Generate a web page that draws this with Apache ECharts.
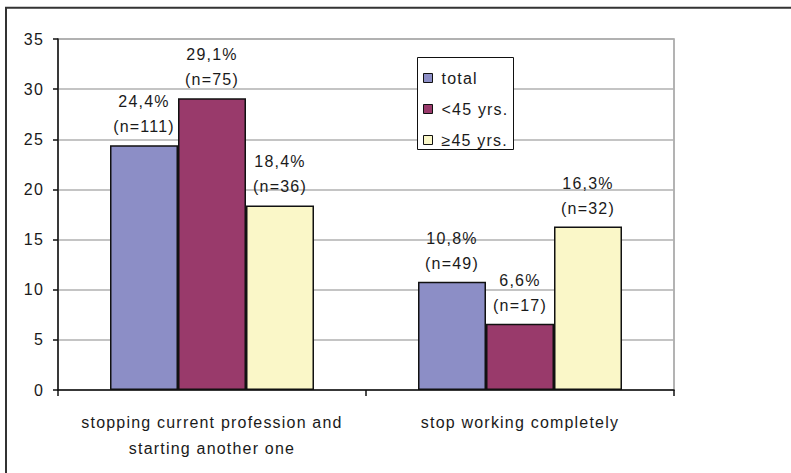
<!DOCTYPE html>
<html>
<head>
<meta charset="utf-8">
<script src="https://cdn.jsdelivr.net/npm/echarts@6/dist/echarts.min.js"></script>
<style>
  html, body { margin: 0; padding: 0; background: #fff; }
  #chart { width: 791px; height: 473px; }
  #chart text { letter-spacing: 1.2px; }
</style>
</head>
<body>
<div id="chart"></div>
<script>
// Categories on the x axis
const categories = [
  'stopping current profession and\nstarting another one',
  'stop working completely'
];
// Share of respondents (%) per age group
const seriesNames = ['total', '<45 yrs.', '\u226545 yrs.'];
const totalPct = [24.4, 10.8];
const youngPct = [29.1, 6.6];
const olderPct = [18.4, 16.3];
// Number of respondents behind each percentage
const totalN = [111, 49];
const youngN = [75, 17];
const olderN = [36, 32];
// Y axis ticks
const yMin = 0, yMax = 35, yStep = 5;

const FONT = '"Liberation Sans", Arial, sans-serif';
const colors = ['#8c8ec6', '#993a6b', '#faf7c8'];

function makeSeries(name, values, counts, color) {
  return {
    name: name,
    type: 'bar',
    data: values,
    barWidth: 68,
    barGap: 0,
    itemStyle: { color: color, borderColor: '#111', borderWidth: 1.5 },
    label: {
      show: true,
      position: 'top',
      distance: 6,
      color: '#1a1a1a',
      fontFamily: FONT,
      fontSize: 16,
      lineHeight: 25,
      formatter: p => p.value.toFixed(1).replace('.', ',') + '%\n(n=' + counts[p.dataIndex] + ')'
    }
  };
}

const chart = echarts.init(document.getElementById('chart'), null, { renderer: 'svg' });
chart.setOption({
  animation: false,
  backgroundColor: '#fff',
  grid: {
    left: 58, right: 117, top: 39, bottom: 83,
    show: true, borderColor: '#9a9a9a', borderWidth: 1.5, backgroundColor: 'transparent'
  },
  xAxis: {
    type: 'category',
    data: categories,
    axisLine: { lineStyle: { color: '#111', width: 1.5 } },
    axisTick: { show: true, inside: false, length: 6, lineStyle: { color: '#111', width: 1.5 } },
    axisLabel: {
      color: '#1a1a1a', fontFamily: FONT, fontSize: 16, lineHeight: 26, margin: 19,
      interval: 0
    }
  },
  yAxis: {
    type: 'value',
    min: yMin, max: yMax, interval: yStep,
    axisLine: { show: true, lineStyle: { color: '#111', width: 1.5 } },
    axisTick: { show: true, inside: false, length: 5, lineStyle: { color: '#111', width: 1.5 } },
    axisLabel: { color: '#1a1a1a', fontFamily: FONT, fontSize: 16, margin: 14 },
    splitLine: { lineStyle: { color: '#b0b0b0', width: 1.5 } }
  },
  legend: {
    orient: 'vertical',
    left: 417, top: 58,
    padding: [10, 8, 2, 6],
    itemWidth: 9, itemHeight: 9, itemGap: 11,
    icon: 'rect',
    z: 10,
    itemStyle: { borderColor: '#111', borderWidth: 1 },
    textStyle: { color: '#1a1a1a', fontFamily: FONT, fontSize: 16, lineHeight: 20, padding: [0, 0, 0, 4] },
    data: seriesNames
  },
  graphic: [
    {
      type: 'rect', z: 1, silent: true,
      shape: { x: 6, y: 7.7, width: 900, height: 600 },
      style: { fill: 'none', stroke: '#333', lineWidth: 2 }
    },
    {
      type: 'rect', z: 5, silent: true,
      shape: { x: 417.5, y: 57.5, width: 96, height: 92 },
      style: { fill: '#fff', stroke: '#111', lineWidth: 1 }
    }
  ],
  series: [
    makeSeries(seriesNames[0], totalPct, totalN, colors[0]),
    makeSeries(seriesNames[1], youngPct, youngN, colors[1]),
    makeSeries(seriesNames[2], olderPct, olderN, colors[2])
  ]
});
</script>
</body>
</html>
